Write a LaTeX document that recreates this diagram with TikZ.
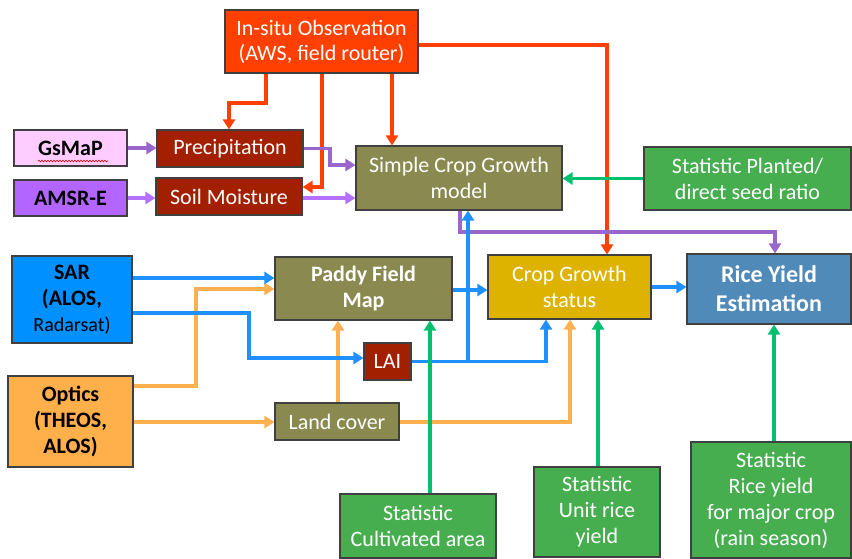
\documentclass[tikz,border=0pt]{standalone}
\usepackage{fontspec}
\setmainfont{Carlito}
\usetikzlibrary{arrows.meta,decorations.pathmorphing}
\definecolor{cIns}{HTML}{FF4000}
\definecolor{cPink}{HTML}{FFCCFF}
\definecolor{cViolet}{HTML}{B366FF}
\definecolor{cDark}{HTML}{A21F00}
\definecolor{cOlive}{HTML}{8A8A50}
\definecolor{cGreen}{HTML}{47AE50}
\definecolor{cSar}{HTML}{0090FF}
\definecolor{cOpt}{HTML}{FFB04B}
\definecolor{cYel}{HTML}{DEB300}
\definecolor{cRye}{HTML}{4F8AB8}
\definecolor{lRed}{HTML}{FF4000}
\definecolor{lPurA}{HTML}{9966CC}
\definecolor{lPurB}{HTML}{B570FF}
\definecolor{lGreen}{HTML}{00C070}
\definecolor{lBlue}{HTML}{1E90FF}
\definecolor{lOrange}{HTML}{FFB050}
\begin{document}
\begin{tikzpicture}[x=1pt,y=-1pt,
  box/.style={draw=black!75, line width=1.1pt, inner sep=0pt, align=center,
    text=white, font=\fontsize{22}{26}\selectfont},
  darkbox/.style={box, text=black, font=\fontsize{22}{26}\selectfont\bfseries},
  conn/.style={line width=3.5pt, -{Triangle[length=10pt,width=12pt]}},
  redc/.style={conn, draw=lRed},
  purA/.style={conn, draw=lPurA},
  purB/.style={conn, draw=lPurB},
  grnc/.style={conn, draw=lGreen},
  bluc/.style={conn, draw=lBlue},
  orc/.style={conn, draw=lOrange},
]
\useasboundingbox (0,0) rectangle (852,558);

% nodes
\node[box, fill=cIns, minimum width=193pt, minimum height=63pt,
  font=\fontsize{22}{25}\selectfont] (insitu) at (321.5,41.5)
  {In-situ Observation\\(AWS, field router)};
\node[darkbox, fill=cPink, minimum width=113pt, minimum height=36pt] (gsmap) at (70.5,148) {GsMaP};
\node[darkbox, fill=cViolet, minimum width=113pt, minimum height=36pt] (amsr) at (70.5,198) {AMSR-E};
\node[box, fill=cDark, minimum width=146pt, minimum height=37pt] (precip) at (230,148.5) {Precipitation};
\node[box, fill=cDark, minimum width=146pt, minimum height=37pt] (soil) at (229,196.5) {Soil Moisture};
\node[box, fill=cOlive, minimum width=206pt, minimum height=64pt] (simple) at (459,178)
  {Simple Crop Growth\\model};
\node[box, fill=cGreen, minimum width=207pt, minimum height=63pt] (planted) at (747.5,178.5)
  {Statistic Planted/\\direct seed ratio};
\node[darkbox, fill=cSar, minimum width=120pt, minimum height=87pt] (sar) at (72,299.5)
  {SAR\\(ALOS,\\{\mdseries\fontsize{20}{26}\selectfont Radarsat)}};
\node[box, fill=cOlive, minimum width=177pt, minimum height=63pt,
  font=\fontsize{22}{26}\selectfont\bfseries] (paddy) at (363.5,288.5) {Paddy Field\\Map};
\node[box, fill=cDark, minimum width=47pt, minimum height=37pt] (lai) at (387.5,361.5) {LAI};
\node[darkbox, fill=cOpt, minimum width=125pt, minimum height=91pt] (optics) at (70.5,421.5)
  {Optics\\(THEOS,\\ALOS)};
\node[box, fill=cOlive, minimum width=124pt, minimum height=37pt] (landcover) at (337,421.5) {Land cover};
\node[box, fill=cYel, minimum width=163pt, minimum height=64pt] (cgs) at (569.5,287)
  {Crop Growth\\status};
\node[box, fill=cRye, minimum width=164pt, minimum height=70pt,
  font=\fontsize{24}{29}\selectfont\bfseries] (rye) at (769,289) {Rice Yield\\Estimation};
\node[box, fill=cGreen, minimum width=156pt, minimum height=64pt] (cult) at (418,526)
  {Statistic\\Cultivated area};
\node[box, fill=cGreen, minimum width=126pt, minimum height=90pt] (unit) at (597,512)
  {Statistic\\Unit rice\\yield};
\node[box, fill=cGreen, minimum width=160pt, minimum height=116pt] (riceyield) at (771,500)
  {Statistic\\Rice yield\\for major crop\\(rain season)};

% spell-check squiggle under GsMaP
\coordinate (sqa) at (38,161);
\coordinate (sqb) at (108,161);
\draw[red!85!black, line width=0.6pt, decorate,
  decoration={snake, segment length=3pt, amplitude=0.8pt}] (sqa) -- (sqb);

% connectors: orange-red from in-situ
\draw[redc] (266,0 |- insitu.south) -- (266,103) -- (229,103) -- (229,0 |- precip.north);
\draw[redc] (322,0 |- insitu.south) -- (322,187) -- (soil.east |- 0,187);
\draw[redc] (392,0 |- insitu.south) -- (392,0 |- simple.north);
\draw[redc] (insitu.east |- 0,45) -- (607,45) -- (607,0 |- cgs.north);

% purple
\draw[purA] (gsmap.east) -- (gsmap.east -| precip.west);
\draw[purB] (amsr.east) -- (amsr.east -| soil.west);
\draw[purA] (precip.east) -- (330,0 |- precip.east) -- (330,165) -- (simple.west |- 0,165);
\draw[purB] (soil.east |- 0,198) -- (simple.west |- 0,198);
\draw[purA] (460,0 |- simple.south) -- (460,232) -- (775,232) -- (775,0 |- rye.north);

% green
\draw[grnc] (planted.west) -- (planted.west -| simple.east);

% orange
\draw[orc] (optics.east |- 0,386) -- (196,386) -- (196,289) -- (paddy.west |- 0,289);
\draw[orc] (optics.east |- 0,422) -- (landcover.west |- 0,422);
\draw[orc] (338,0 |- landcover.north) -- (338,0 |- paddy.south);
\draw[orc] (landcover.east |- 0,422) -- (570,422) -- (570,0 |- cgs.south);

% blue
\draw[bluc] (sar.east |- 0,278) -- (paddy.west |- 0,278);
\draw[bluc] (sar.east |- 0,313) -- (249,313) -- (249,358) -- (lai.west |- 0,358);
\coordinate (lj) at (468,361.5);
\draw[bluc] (lai.east) -- (lj) -- (lj |- simple.south);
\draw[bluc] (lj) -- (546,361.5) -- (546,0 |- cgs.south);
\draw[bluc] (paddy.east |- 0,290) -- (cgs.west |- 0,290);
\draw[bluc] (cgs.east |- 0,287) -- (rye.west |- 0,287);

% green verticals
\draw[grnc] (430,0 |- cult.north) -- (430,0 |- paddy.south);
\draw[grnc] (598,0 |- unit.north) -- (598,0 |- cgs.south);
\draw[grnc] (774,0 |- riceyield.north) -- (774,0 |- rye.south);
\end{tikzpicture}
\end{document}
